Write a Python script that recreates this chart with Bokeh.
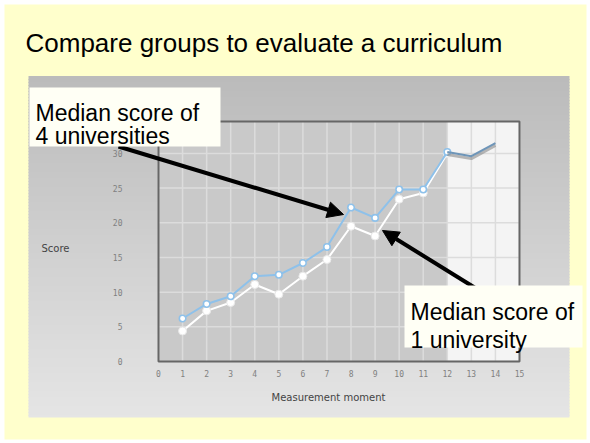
from bokeh.plotting import figure
from bokeh.models import Range1d, BoxAnnotation, Label, Arrow, NormalHead, ColumnDataSource
from bokeh.core.properties import value
from bokeh.transform import dodge
from bokeh.embed import file_html
from bokeh.resources import INLINE

# ---------------- data ----------------
moments = [1, 2, 3, 4, 5, 6, 7, 8, 9, 10, 11, 12]
median_4_universities = [6.2, 8.3, 9.4, 12.3, 12.5, 14.2, 16.5, 22.2, 20.7, 24.8, 24.8, 30.2]
median_1_university = [4.4, 7.3, 8.5, 11.1, 9.7, 12.3, 14.7, 19.5, 18.1, 23.4, 24.3, 30.0]
forecast_moments = [12, 13, 14]
forecast_values = [30.2, 29.6, 31.5]
forecast_zone = [12, 15]
x_ticks = list(range(0, 16))
y_ticks = [0, 5, 10, 15, 20, 25, 30]
x_label = "Measurement moment"
y_label = "Score"

title_text = "Compare groups to evaluate a curriculum"
note_4 = ["Median score of", "4 universities"]
note_1 = ["Median score of", "1 university"]

# ---------------- layout (pixel geometry of the page) ----------------
W, H = 590, 443
BORDER = 4
XMAX, YMAX = 15, 34.6
FL, FR, FT, FB = 158, 519, 121, 361     # plot area on the page
TICK_FONT_PX = 8


def dx(px):
    return (px - FL) / (FR - FL) * XMAX


def dy(py):
    return (FB - py) / (FB - FT) * YMAX


p = figure(width=W, height=H, output_backend="svg", toolbar_location=None,
           x_range=Range1d(dx(BORDER), dx(W - BORDER)),
           y_range=Range1d(dy(H - BORDER), dy(BORDER)),
           x_axis_location=None, y_axis_location=None,
           min_border=BORDER, min_border_left=BORDER, min_border_right=BORDER,
           min_border_top=BORDER, min_border_bottom=BORDER)
p.border_fill_color = "white"
p.background_fill_color = "#FFFFCC"
p.outline_line_color = None
p.xgrid.visible = False
p.ygrid.visible = False

# grey gradient panel
PL, PR, PT, PB = 28, 569, 76, 417
step = 3
lefts, rights, tops, bottoms, cols = [], [], [], [], []
yy = PT
while yy < PB:
    y2 = min(yy + step, PB)
    t = (yy - PT) / (PB - PT)
    g = int(round(0xBB + t * (0xE5 - 0xBB)))
    lefts.append(dx(PL))
    rights.append(dx(PR))
    tops.append(dy(yy - 0.4))
    bottoms.append(dy(min(y2 + 0.4, PB)))
    cols.append("#%02x%02x%02x" % (g, g, g))
    yy = y2
p.quad(left=lefts, right=rights, top=tops, bottom=bottoms, fill_color=cols,
       line_color=None)

# plot area
p.quad(left=[x_ticks[0]], right=[XMAX], bottom=[y_ticks[0]], top=[YMAX],
       fill_color="#C9C9C9", line_color=None)
p.quad(left=[forecast_zone[0]], right=[forecast_zone[1]], bottom=[0], top=[YMAX],
       fill_color="#F4F4F4", line_color=None)

# grid lines
p.segment(x0=x_ticks, x1=x_ticks, y0=[0] * len(x_ticks), y1=[YMAX] * len(x_ticks),
          line_color="#DCDCDC", line_width=1.5)
p.segment(x0=[0] * len(y_ticks), x1=[XMAX] * len(y_ticks), y0=y_ticks, y1=y_ticks,
          line_color="#DCDCDC", line_width=1.5)

# frame outline
p.quad(left=[0], right=[XMAX], bottom=[0], top=[YMAX], fill_color=None,
       line_color="#666666", line_width=2)

# data
src1 = ColumnDataSource(dict(x=moments, y=median_1_university))
src4 = ColumnDataSource(dict(x=moments, y=median_4_universities))
srcf = ColumnDataSource(dict(x=forecast_moments, y=forecast_values))

p.line("x", "y", source=src1, line_color="white", line_width=2)
p.scatter("x", "y", source=src1, size=8, fill_color="white", line_color="#E8E8E8",
          line_width=1)
p.line("x", "y", source=src4, line_color="#8EC1EA", line_width=2)
p.scatter("x", "y", source=src4, size=6.5, fill_color="white", line_color="#8EC1EA",
          line_width=1.6)
p.line(x="x", y=dodge("y", -0.35, range=p.y_range), source=srcf,
       line_color="#8A8A8A", line_alpha=0.6, line_width=3)
p.line("x", "y", source=srcf, line_color="#6E95B8", line_width=2)

# tick labels
x_tick_text = [str(v) for v in x_ticks]
y_tick_text = [str(v) for v in y_ticks]
xt = ColumnDataSource(dict(x=x_ticks, y=[dy(372.5)] * len(x_ticks), t=x_tick_text))
yt = ColumnDataSource(dict(x=[dx(122)] * len(y_ticks), y=y_ticks, t=y_tick_text))
p.text(x="x", y="y", text="t", source=xt,
       text_font=value("DejaVu Sans Mono"), text_font_size=value("%dpx" % TICK_FONT_PX),
       text_color="#808080", text_align=value("center"), text_baseline=value("middle"))
p.text(x="x", y="y", text="t", source=yt,
       text_font=value("DejaVu Sans Mono"), text_font_size=value("%dpx" % TICK_FONT_PX),
       text_color="#808080", text_align=value("right"), text_baseline=value("middle"))

# axis titles
p.add_layout(Label(x=dx(41), y=dy(248), text=y_label, text_font="DejaVu Sans",
                   text_font_size="10px", text_color="#444444", text_baseline="middle"))
p.add_layout(Label(x=dx(328), y=dy(397), text=x_label, text_font="DejaVu Sans",
                   text_font_size="10px", text_color="#444444", text_baseline="middle",
                   text_align="center"))

# arrows
p.add_layout(Arrow(end=NormalHead(size=16, fill_color="black", line_color="black"),
                   x_start=dx(118), y_start=dy(146), x_end=dx(343), y_end=dy(214),
                   line_width=4, line_color="black"))
p.add_layout(Arrow(end=NormalHead(size=16, fill_color="black", line_color="black"),
                   x_start=dx(474), y_start=dy(287), x_end=dx(382), y_end=dy(230),
                   line_width=4, line_color="black"))

# note boxes
p.add_layout(BoxAnnotation(left=dx(29), right=dx(220), top=dy(87), bottom=dy(146),
                           fill_color="#FFFFF5", fill_alpha=1, line_color=None))
p.add_layout(BoxAnnotation(left=dx(404), right=dx(582), top=dy(285), bottom=dy(347),
                           fill_color="#FFFFF5", fill_alpha=1, line_color=None))

for i, t in enumerate(note_4):
    p.add_layout(Label(x=dx(35), y=dy(112.5 + i * 22.5), text=t,
                       text_font="Liberation Sans", text_font_size="23px",
                       text_color="black", text_baseline="alphabetic"))
for i, t in enumerate(note_1):
    p.add_layout(Label(x=dx(410), y=dy(311.5 + i * 27.5), text=t,
                       text_font="Liberation Sans", text_font_size="23px",
                       text_color="black", text_baseline="alphabetic"))

# title
p.add_layout(Label(x=dx(25), y=dy(42), text=title_text,
                   text_font="Liberation Sans", text_font_size="26px",
                   text_color="black", text_baseline="alphabetic"))

open("out.html", "w").write(file_html(p, INLINE))
